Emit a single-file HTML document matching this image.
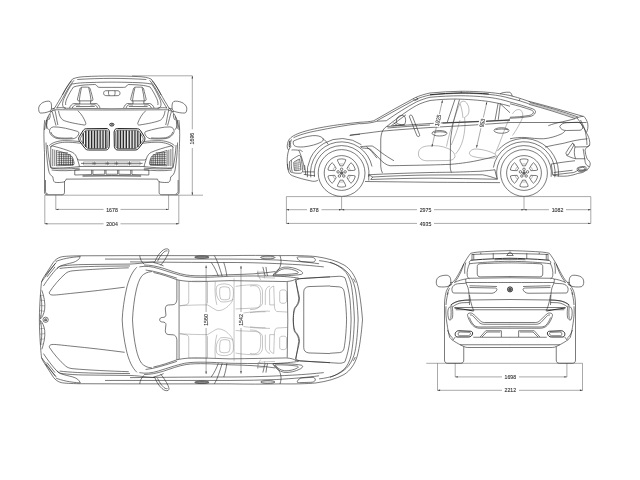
<!DOCTYPE html>
<html><head><meta charset="utf-8"><title>BMW X6 dimensions</title>
<style>
html,body{margin:0;padding:0;background:#fff;}
body{width:640px;height:480px;overflow:hidden;}
svg{display:block;will-change:transform;}
svg *{vector-effect:non-scaling-stroke;}
.l{fill:none;stroke:#222;stroke-width:0.6;stroke-linecap:butt;stroke-linejoin:round;}
.t{fill:none;stroke:#555;stroke-width:0.4;stroke-linecap:butt;stroke-linejoin:round;}
.s{fill:none;stroke:#808080;stroke-width:0.45;}
.w{fill:#fff;stroke:#222;stroke-width:0.6;stroke-linejoin:round;}
.b{fill:none;stroke:#333;stroke-width:1;}
.d{fill:none;stroke:#555;stroke-width:0.5;}
.a{fill:#333;stroke:none;}
text{font-family:"Liberation Sans",sans-serif;font-size:5.8px;fill:#333;stroke:#333;stroke-width:0.12;text-anchor:middle;}
</style></head>
<body>
<svg width="640" height="480" viewBox="0 0 640 480">
<rect width="640" height="480" fill="#fff"/>
<g>
<path class="d" d="M44.8 195.2H203 M44.8 195.2V224 M178.8 195.2V224 M55.8 195.2V209.6 M168.6 195.2V209.6 M55.8 209.4H103.5 M120.5 209.4H168.6 M44.8 223.8H103.5 M120.5 223.8H178.8 M132 75.8H192.3 M192.3 75.8V129.3 M192.3 148V195.2"/>
<path class="a" d="M55.8 209.4l2.6-.7v1.4z M168.6 209.4l-2.6-.7v1.4z M44.8 223.8l2.6-.7v1.4z M178.8 223.8l-2.6-.7v1.4z M192.3 75.8l-.7 2.6h1.4z M192.3 195.2l-.7-2.6h1.4z"/>
<text x="112" y="211.5" textLength="11.6" lengthAdjust="spacingAndGlyphs">1678</text>
<text x="112" y="225.9" textLength="11.6" lengthAdjust="spacingAndGlyphs">2004</text>
<text transform="translate(194.4 138.6) rotate(-90)" textLength="11.6" lengthAdjust="spacingAndGlyphs">1696</text>
<path class="d" d="M286.4 196.6H590.8 M286.4 196.6V223.6 M590.8 196.6V223.6 M341.6 196.6V210 M524 196.6V210 M286.4 209.7H307 M321.5 209.7H417 M434 209.7H549 M566 209.7H590.8 M286.4 223.4H417 M434 223.4H590.8"/>
<path class="a" d="M286.4 209.7l2.6-.7v1.4z M341.6 209.7l-2.6-.7v1.4z M341.6 209.7l2.6-.7v1.4z M524 209.7l-2.6-.7v1.4z M524 209.7l2.6-.7v1.4z M590.8 209.7l-2.6-.7v1.4z M286.4 223.4l2.6-.7v1.4z M590.8 223.4l-2.6-.7v1.4z"/>
<text x="314.2" y="211.8" textLength="8.7" lengthAdjust="spacingAndGlyphs">878</text>
<text x="425.5" y="211.8" textLength="11.6" lengthAdjust="spacingAndGlyphs">2975</text>
<text x="557.5" y="211.8" textLength="11.6" lengthAdjust="spacingAndGlyphs">1082</text>
<text x="425.5" y="225.5" textLength="11.6" lengthAdjust="spacingAndGlyphs">4935</text>
<path class="d" d="M426.3 363.3H582.5 M437.5 363.3V390.5 M582.5 363.3V390.5 M455.2 363.3V377 M566.9 363.3V377 M455.2 376.9H502 M519 376.9H566.9 M437.5 390.3H502 M519 390.3H582.5"/>
<path class="a" d="M455.2 376.9l2.6-.7v1.4z M566.9 376.9l-2.6-.7v1.4z M437.5 390.3l2.6-.7v1.4z M582.5 390.3l-2.6-.7v1.4z"/>
<text x="510.3" y="379.0" textLength="11.6" lengthAdjust="spacingAndGlyphs">1698</text>
<text x="510.3" y="392.4" textLength="11.6" lengthAdjust="spacingAndGlyphs">2212</text>
</g>
<g>
<g>
<g transform="translate(36 70) scale(0.125)">
<path class="l" d="M292 72 C320 60 350 55 390 53 C460 49 540 48 606.6 48"/>
<path class="l" d="M330 76 C420 70 520 67 606.6 67"/>
<path class="l" d="M292 112 C330 104 380 101 440 100 C500 98 560 97 606.6 97"/>
<path class="l" d="M300 136 C330 126 370 120 420 118 L470 116 C480 116 484 122 488 128 C492 136 500 139 512 139 L606.6 139"/>
<path class="l" d="M556 166 C545 168 540 178 541 188 C542 198 548 204 558 205 L606.6 206 M556 166 L606.6 165 M582 166 C578 178 580 195 586 205"/>
<path class="l" d="M292 72 C264 104 240 144 217 188 C192 234 168 272 150 302"/>
<path class="l" d="M304 82 C276 114 252 154 230 196 C208 238 184 276 165 306"/>
<path class="l" d="M285 86 C260 116 234 156 212 200"/>
<path class="l" d="M292 106 C270 135 245 180 225 225 C212 255 208 280 218 295 C224 303 232 306 245 306 L606.6 310"/>
<path class="l" d="M300 136 C282 160 264 192 248 226 C238 248 234 266 238 280"/>
<path class="l" d="M150 318 C200 318 400 320 606.6 320"/>
<path class="l" d="M165 304 C190 300 215 300 240 306"/>
<path class="l" d="M352 150 C355 140 362 137 375 137 L410 137 C423 137 430 140 433 150 C442 180 450 210 455 232 C457 242 452 247 442 247 L345 247 C335 247 330 242 332 232 C337 210 345 180 352 150 Z"/>
<path class="l" d="M364 140 C356 175 350 210 346 246 M421 140 C430 175 437 210 441 246"/>
<path class="l" d="M350 247 L350 272 L437 272 L437 247"/>
<path class="l" d="M268 304 C275 285 288 270 305 268 L350 270 M437 270 L480 268 C495 270 505 285 512 304"/>
<path class="l" d="M290 304 C296 290 305 280 318 278 L350 280 M437 280 L468 278 C480 280 488 290 492 304"/>
<path class="l" d="M320 292 L470 292"/>
<path class="l" d="M180 326 C185 360 195 385 215 400 C240 415 330 432 385 440 C398 442 402 432 396 418 C385 390 365 352 335 326"/>
<path class="l" d="M150 300 C130 325 105 350 90 385 C78 415 72 450 68 480"/>
<path class="l" d="M150 318 C160 350 165 400 175 440"/>
<path class="l" d="M130 335 C140 365 150 410 160 445"/>
<path class="l" d="M100 372 C92 395 85 430 82 470"/>
<path class="l" d="M112 352 C118 372 108 392 100 400"/>
<ellipse class="l" cx="606" cy="437" rx="17" ry="11"/>
<ellipse cx="606" cy="437" rx="9" ry="6" style="fill:#777"/>
</g>
<g transform="translate(36 120) scale(0.125)">
<path class="l" d="M108 92 C106 75 118 58 140 55 C190 52 280 75 335 92 C345 96 345 108 338 120 C330 135 315 148 295 150 C250 153 200 152 170 148 C140 142 112 118 108 92 Z"/>
<path class="l" d="M118 95 C125 120 150 138 178 142 C210 146 260 146 292 143"/>
<path class="l" style="stroke-width:1" d="M343 158 C340 150 341 142 347 132 L376 86 C382 76 390 70 402 70 L560 68 C572 68 580 72 584 82 L588 96 L586 214 L580 228 C576 236 568 240 556 240 L420 240 C408 240 400 236 393 228 L350 172 C346 166 344 162 343 158 Z"/>
<path class="l" d="M356 156 C354 150 355 144 360 136 L386 94 C391 86 398 82 408 82 L556 80 C566 80 572 83 574 90 L576 100 L574 210 L570 220 C567 226 561 228 552 228 L424 228 C414 228 408 225 402 218 L362 168 C358 163 357 160 356 156 Z"/>
<path class="b" style="stroke-width:1.3;stroke:#2a2a2a" d="M398 88V216 M421 83V227 M444 83V227 M467 83V227 M490 82V227 M513 82V227 M536 82V227 M558 82V227 M378 106V190"/>
<path class="t" d="M406 86V222 M429 83V227 M452 83V227 M475 83V227 M498 82V227 M521 82V227 M544 82V227 M566 84V224"/>
<path class="l" d="M105 205 C130 180 180 165 230 165 C270 165 310 168 350 172"/>
<path class="l" d="M112 218 C135 195 180 180 230 178 C270 177 310 180 356 186"/>
<path class="l" d="M118 222 C118 212 124 206 134 208 C190 222 250 240 290 258 C310 268 322 285 330 310 C338 335 345 355 348 372 C300 380 200 385 135 384 C124 384 118 378 118 368 Z"/>
<path class="l" d="M134 232 L134 370 M150 238 L150 368 M164 244 L164 366"/>
<path class="l" d="M164 244 C210 256 255 270 280 285 C295 295 300 320 305 345 C306 355 300 362 290 362 L164 366"/>
<path class="l" d="M170 262H255 M170 278H278 M170 294H288 M170 310H294 M170 326H298 M170 342H302 M170 356H302 M186 256V362 M204 260V362 M222 266V362 M240 272V362 M258 280V362 M276 290V362 M292 310V362"/>
<path class="l" d="M120 385 C180 395 260 392 350 385 M125 400 C200 410 280 405 350 398"/>
<path class="l" d="M345 320 L606.6 320 M348 372 L606.6 372 M330 310 C335 315 340 320 345 320"/>
<path class="t" d="M380 335H455 V360H380Z M475 335H560 V360H475Z M580 335H606.6 M580 360H606.6 M580 335V360"/>
<path class="l" d="M360 347H606.6 M465 330V364 M570 330V364"/>
<path class="l" d="M310 400 L606.6 400 M310 400 L310 440 L445 436 L445 400 M455 400 L455 436 L550 434 L550 400 M560 400V434 L606.6 434"/>
<path class="b" d="M372 448 L606.6 446"/>
<path class="l" d="M240 473 L606.6 471"/>
<path class="l" d="M70 0 C64 40 62 100 64 160 C65 200 66 230 68 260 L68 480"/>
<path class="l" d="M84 0 C80 30 85 60 100 78"/>
<path class="l" d="M80 180 C82 250 88 330 100 400 C106 430 118 445 135 455"/>
<path class="l" d="M92 200 C96 260 104 330 118 385"/>
</g>
<g transform="translate(36 150) scale(0.125)">
<path class="l" d="M68 240 L68 335 C68 350 74 358 90 358 L208 358 C222 358 228 350 228 338 L228 250"/>
<path class="l" d="M135 215 C138 235 138 250 150 258 C170 262 200 260 222 256 C234 252 238 242 240 234"/>
<path class="l" d="M76 240 L76 330 C76 342 82 350 94 351"/>
</g>
</g>
<g><g transform="translate(36 70) scale(0.125)">
<path class="l" d="M22 318 C18 300 28 275 55 260 C75 250 100 246 112 252 C122 258 126 280 124 305 C123 318 118 326 105 332 C85 340 55 346 35 344 C26 342 23 332 22 318 Z"/>
<path class="l" d="M122 312 L150 306 M110 332 C125 332 140 326 150 318"/>
</g></g>
<g transform="translate(223.6 0) scale(-1 1) translate(51.1 0) scale(1.15 1) translate(-51.1 0)"><g transform="translate(36 70) scale(0.125)">
<path class="l" d="M22 318 C18 300 28 275 55 260 C75 250 100 246 112 252 C122 258 126 280 124 305 C123 318 118 326 105 332 C85 340 55 346 35 344 C26 342 23 332 22 318 Z"/>
<path class="l" d="M122 312 L150 306 M110 332 C125 332 140 326 150 318"/>
</g></g>
<g transform="translate(223.6 0) scale(-1 1)">
<g transform="translate(36 70) scale(0.125)">
<path class="l" d="M292 72 C320 60 350 55 390 53 C460 49 540 48 606.6 48"/>
<path class="l" d="M330 76 C420 70 520 67 606.6 67"/>
<path class="l" d="M292 112 C330 104 380 101 440 100 C500 98 560 97 606.6 97"/>
<path class="l" d="M300 136 C330 126 370 120 420 118 L470 116 C480 116 484 122 488 128 C492 136 500 139 512 139 L606.6 139"/>
<path class="l" d="M556 166 C545 168 540 178 541 188 C542 198 548 204 558 205 L606.6 206 M556 166 L606.6 165 M582 166 C578 178 580 195 586 205"/>
<path class="l" d="M292 72 C264 104 240 144 217 188 C192 234 168 272 150 302"/>
<path class="l" d="M304 82 C276 114 252 154 230 196 C208 238 184 276 165 306"/>
<path class="l" d="M285 86 C260 116 234 156 212 200"/>
<path class="l" d="M292 106 C270 135 245 180 225 225 C212 255 208 280 218 295 C224 303 232 306 245 306 L606.6 310"/>
<path class="l" d="M300 136 C282 160 264 192 248 226 C238 248 234 266 238 280"/>
<path class="l" d="M150 318 C200 318 400 320 606.6 320"/>
<path class="l" d="M165 304 C190 300 215 300 240 306"/>
<path class="l" d="M352 150 C355 140 362 137 375 137 L410 137 C423 137 430 140 433 150 C442 180 450 210 455 232 C457 242 452 247 442 247 L345 247 C335 247 330 242 332 232 C337 210 345 180 352 150 Z"/>
<path class="l" d="M364 140 C356 175 350 210 346 246 M421 140 C430 175 437 210 441 246"/>
<path class="l" d="M350 247 L350 272 L437 272 L437 247"/>
<path class="l" d="M268 304 C275 285 288 270 305 268 L350 270 M437 270 L480 268 C495 270 505 285 512 304"/>
<path class="l" d="M290 304 C296 290 305 280 318 278 L350 280 M437 280 L468 278 C480 280 488 290 492 304"/>
<path class="l" d="M320 292 L470 292"/>
<path class="l" d="M180 326 C185 360 195 385 215 400 C240 415 330 432 385 440 C398 442 402 432 396 418 C385 390 365 352 335 326"/>
<path class="l" d="M150 300 C130 325 105 350 90 385 C78 415 72 450 68 480"/>
<path class="l" d="M150 318 C160 350 165 400 175 440"/>
<path class="l" d="M130 335 C140 365 150 410 160 445"/>
<path class="l" d="M100 372 C92 395 85 430 82 470"/>
<path class="l" d="M112 352 C118 372 108 392 100 400"/>
<ellipse class="l" cx="606" cy="437" rx="17" ry="11"/>
<ellipse cx="606" cy="437" rx="9" ry="6" style="fill:#777"/>
</g>
<g transform="translate(36 120) scale(0.125)">
<path class="l" d="M108 92 C106 75 118 58 140 55 C190 52 280 75 335 92 C345 96 345 108 338 120 C330 135 315 148 295 150 C250 153 200 152 170 148 C140 142 112 118 108 92 Z"/>
<path class="l" d="M118 95 C125 120 150 138 178 142 C210 146 260 146 292 143"/>
<path class="l" style="stroke-width:1" d="M343 158 C340 150 341 142 347 132 L376 86 C382 76 390 70 402 70 L560 68 C572 68 580 72 584 82 L588 96 L586 214 L580 228 C576 236 568 240 556 240 L420 240 C408 240 400 236 393 228 L350 172 C346 166 344 162 343 158 Z"/>
<path class="l" d="M356 156 C354 150 355 144 360 136 L386 94 C391 86 398 82 408 82 L556 80 C566 80 572 83 574 90 L576 100 L574 210 L570 220 C567 226 561 228 552 228 L424 228 C414 228 408 225 402 218 L362 168 C358 163 357 160 356 156 Z"/>
<path class="b" style="stroke-width:1.3;stroke:#2a2a2a" d="M398 88V216 M421 83V227 M444 83V227 M467 83V227 M490 82V227 M513 82V227 M536 82V227 M558 82V227 M378 106V190"/>
<path class="t" d="M406 86V222 M429 83V227 M452 83V227 M475 83V227 M498 82V227 M521 82V227 M544 82V227 M566 84V224"/>
<path class="l" d="M105 205 C130 180 180 165 230 165 C270 165 310 168 350 172"/>
<path class="l" d="M112 218 C135 195 180 180 230 178 C270 177 310 180 356 186"/>
<path class="l" d="M118 222 C118 212 124 206 134 208 C190 222 250 240 290 258 C310 268 322 285 330 310 C338 335 345 355 348 372 C300 380 200 385 135 384 C124 384 118 378 118 368 Z"/>
<path class="l" d="M134 232 L134 370 M150 238 L150 368 M164 244 L164 366"/>
<path class="l" d="M164 244 C210 256 255 270 280 285 C295 295 300 320 305 345 C306 355 300 362 290 362 L164 366"/>
<path class="l" d="M170 262H255 M170 278H278 M170 294H288 M170 310H294 M170 326H298 M170 342H302 M170 356H302 M186 256V362 M204 260V362 M222 266V362 M240 272V362 M258 280V362 M276 290V362 M292 310V362"/>
<path class="l" d="M120 385 C180 395 260 392 350 385 M125 400 C200 410 280 405 350 398"/>
<path class="l" d="M345 320 L606.6 320 M348 372 L606.6 372 M330 310 C335 315 340 320 345 320"/>
<path class="t" d="M380 335H455 V360H380Z M475 335H560 V360H475Z M580 335H606.6 M580 360H606.6 M580 335V360"/>
<path class="l" d="M360 347H606.6 M465 330V364 M570 330V364"/>
<path class="l" d="M310 400 L606.6 400 M310 400 L310 440 L445 436 L445 400 M455 400 L455 436 L550 434 L550 400 M560 400V434 L606.6 434"/>
<path class="b" d="M372 448 L606.6 446"/>
<path class="l" d="M240 473 L606.6 471"/>
<path class="l" d="M70 0 C64 40 62 100 64 160 C65 200 66 230 68 260 L68 480"/>
<path class="l" d="M84 0 C80 30 85 60 100 78"/>
<path class="l" d="M80 180 C82 250 88 330 100 400 C106 430 118 445 135 455"/>
<path class="l" d="M92 200 C96 260 104 330 118 385"/>
</g>
<g transform="translate(36 150) scale(0.125)">
<path class="l" d="M68 240 L68 335 C68 350 74 358 90 358 L208 358 C222 358 228 350 228 338 L228 250"/>
<path class="l" d="M135 215 C138 235 138 250 150 258 C170 262 200 260 222 256 C234 252 238 242 240 234"/>
<path class="l" d="M76 240 L76 330 C76 342 82 350 94 351"/>
</g>
</g>
</g>
<g>
<g transform="translate(280 110) scale(0.125)">
<path class="l" d="M76 232 C100 205 140 188 200 170 C290 145 420 120 640 98"/>
<path class="l" d="M108 222 C150 200 220 180 300 165 C400 145 520 122 640 108"/>
<path class="l" d="M76 232 C66 245 60 262 58 285 C57 300 60 312 70 320"/>
<path class="l" d="M92 235 C85 250 82 270 86 295 C80 300 74 310 70 320"/>
<path class="b" d="M80 245 C74 262 72 280 76 298"/>
<path class="l" d="M108 248 C150 228 210 210 262 205 C300 203 328 210 342 226 C350 236 346 246 334 254 C300 274 240 290 190 295 C150 298 122 294 112 282 C104 270 104 258 108 248 Z"/>
<path class="l" d="M342 228 C360 240 375 258 386 276"/>
<path class="l" d="M70 320 C60 350 55 390 58 430 C59 450 62 465 66 480"/>
<path class="l" d="M92 320 C110 318 135 320 150 322 C165 350 180 400 190 440 L196 480"/>
<path class="l" d="M150 322 C160 318 172 322 180 335"/>
<path class="l" d="M556 205 C585 200 612 196 640 194"/>
</g>
<g transform="translate(280 145) scale(0.125)">
<path class="l" d="M66 200 C68 222 80 238 100 246 C140 262 200 278 260 290 C280 292 296 288 306 280"/>
<path class="l" d="M66 200 C62 180 60 165 60 150"/>
<path class="l" d="M76 132 C100 112 128 94 150 84 C160 82 166 90 168 104 C174 140 180 175 182 200 C182 215 176 224 164 226 C135 228 105 224 84 216 C76 190 74 160 76 132 Z"/>
<path class="l" d="M110 138 C128 126 144 116 156 112 C162 140 166 170 168 198 C150 204 130 206 116 204 C112 180 110 160 110 138 Z"/>
<path class="t" d="M122 132V204 M134 125V205 M146 118V203 M112 150L162 140 M113 165L164 156 M114 180L166 172 M115 193L167 186"/>
<path class="l" d="M92 122 C88 150 90 185 98 214"/>
<path class="l" d="M182 215 L276 215 M190 235 C220 240 250 244 280 246"/>
<path class="l" d="M196 160 C200 185 204 210 206 240"/>
</g>
<g transform="translate(350 80) scale(0.125)">
<path class="l" d="M80 338 C120 336 160 334 190 326 C300 262 410 200 520 142 C560 124 600 112 640 104"/>
<path class="l" d="M80 350 C130 348 180 342 215 330 L290 326"/>
<path class="l" d="M215 326 C320 268 420 212 520 158 C560 140 600 128 640 120"/>
<path class="l" d="M290 326 C370 270 450 218 530 176 C570 158 605 146 640 138"/>
<path class="l" d="M296 370 C340 335 390 298 440 262 C480 234 520 208 560 190 C590 178 615 170 640 164"/>
<path class="l" d="M330 366 C370 336 410 306 448 278"/>
<path class="l" d="M505 150 L520 164 L545 152 L530 140"/>
<path class="l" d="M372 318 C376 300 390 286 410 284 C428 283 438 288 442 302 C446 318 446 335 440 348 C436 356 426 358 412 357 C396 356 382 352 374 346 C370 338 370 328 372 318 Z"/>
<path class="l" d="M350 340 C356 350 364 356 374 358 M340 366 L440 358"/>
<path class="l" d="M478 284 C484 278 494 280 498 288 L556 436 C560 446 554 454 546 452 C540 452 536 448 534 442 L476 296 C474 290 475 287 478 284 Z"/>
<path class="l" d="M296 370 C270 385 255 410 250 440 C247 455 246 470 246 480"/>
<path class="l" d="M296 372 C400 364 520 356 640 348"/>
<path class="l" d="M300 384 C400 376 520 366 640 360"/>
<path class="l" d="M0 440 C80 432 170 420 246 410 C380 398 520 388 640 380"/>
</g>
<g transform="translate(350 135) scale(0.125)">
<path class="l" d="M246 40 L246 250 C247 270 252 290 260 305"/>
<path class="l" d="M84 94 C120 90 150 88 178 88 C200 100 225 120 250 140 C285 165 320 188 352 206"/>
<path class="l" d="M100 104 C125 106 145 108 162 112 C185 135 212 165 238 192 C262 220 290 240 320 246 C420 244 540 242 640 240"/>
<path class="l" d="M84 94 L100 104 M130 92 C160 115 190 150 215 185"/>
<path class="l" d="M150 318 C300 310 480 304 640 300"/>
<path class="l" d="M182 336 C320 328 480 322 640 320"/>
<path class="l" d="M150 318 L182 336 L166 356 C320 350 480 346 640 345"/>
<path class="l" d="M150 318 L150 365 M120 372 C300 374 480 376 640 378"/>
</g>
<g transform="translate(430 80) scale(0.125)">
<path class="l" d="M0 104 C80 96 170 91 250 90 C340 90 420 95 480 100 C540 106 590 114 640 124"/>
<path class="b" d="M0 118 C80 110 170 104 250 103 C330 103 410 107 470 112"/>
<path class="l" d="M0 120 C80 112 170 107 250 106 C340 106 420 111 480 116 C540 122 590 132 640 146"/>
<path class="l" d="M0 138 C80 131 170 126 250 126 C340 127 420 133 480 140 C540 148 590 160 640 176"/>
<path class="l" d="M250 90 L250 106"/>
<path class="l" d="M560 112 C575 100 600 96 640 98"/>
<path class="l" d="M0 164 C70 156 140 152 200 152 C300 154 400 162 470 172 C540 184 600 198 640 210"/>
<path class="l" d="M200 154 L138 338 M236 156 L186 340"/>
<path class="l" d="M186 340 C178 380 170 430 164 480"/>
<path class="l" d="M545 186 L520 322 M562 190 L546 318"/>
<path class="l" d="M562 190 C590 215 615 240 640 262"/>
<path class="l" d="M0 348 C100 342 200 338 300 334 C420 330 540 324 640 318"/>
<path class="l" style="stroke-width:0.8" d="M100 345 C200 341 300 337 400 333 C490 329 570 325 640 321"/>
<path class="l" d="M0 380 C100 374 220 368 320 362 C440 354 560 346 640 340"/>
<ellipse class="l" cx="76" cy="426" rx="60" ry="22"/>
<path class="l" d="M30 420 C60 412 100 412 128 420"/>
<ellipse class="l" cx="572" cy="404" rx="60" ry="22"/>
<path class="l" d="M524 398 C555 390 595 390 624 398"/>
</g>
<g transform="translate(430 135) scale(0.125)">
<path class="l" d="M164 40 L162 250 C162 270 166 288 172 300"/>
<path class="l" d="M0 240 C60 238 110 237 160 235 C250 228 340 214 400 200 C450 190 490 180 525 168"/>
<path class="l" d="M0 300 C60 299 120 298 170 298 C260 296 340 292 400 290 C450 286 490 282 520 278"/>
<path class="l" d="M0 320 C140 320 280 319 420 318 C460 325 500 338 540 352"/>
<path class="l" d="M0 345 C180 347 360 350 540 354"/>
<path class="l" d="M0 378 C190 379 380 380 560 381"/>
<path class="l" d="M520 278 C522 300 530 328 540 352"/>
</g>
<g transform="translate(510 80) scale(0.125)">
<path class="l" d="M0 124 C40 134 80 146 120 160 C135 165 150 170 160 176"/>
<path class="l" d="M0 98 C8 104 14 114 18 130"/>
<path class="l" d="M0 146 C50 158 100 172 150 190"/>
<path class="l" d="M80 150 L72 168"/>
<path class="l" d="M150 170 C290 206 430 246 582 290"/>
<path class="l" d="M160 180 C290 214 420 252 545 296"/>
<path class="t" d="M152 187 C280 221 410 259 535 302"/>
<path class="l" d="M150 194 C275 228 400 266 520 308"/>
<path class="l" d="M520 308 C545 298 565 292 590 290 C605 305 616 325 622 350 C626 375 622 400 612 420"/>
<path class="l" d="M535 302 C550 320 565 340 575 360 C590 380 600 400 604 420"/>
<path class="l" d="M0 176 C60 192 130 212 180 230 C200 238 208 248 202 262 C196 278 180 288 160 292 C110 300 55 304 0 306"/>
<path class="l" d="M0 190 C55 204 120 222 170 240 C186 247 190 254 186 264 C180 275 166 282 150 284 C105 292 50 296 0 298"/>
<path class="l" d="M0 340 L612 340"/>
<path class="l" d="M306 366 C340 352 380 342 420 334 C455 326 490 318 520 310"/>
<path class="l" d="M398 372 C405 355 425 344 450 342 L540 338 C560 338 574 350 580 370 C584 388 576 400 560 402 L450 404 C425 404 405 395 398 372 Z"/>
<path class="l" d="M0 470 C40 462 80 458 120 460 C170 464 220 472 270 470 C320 466 370 450 410 432 C425 424 435 415 442 406"/>
</g>
<g transform="translate(520 120) scale(0.125)">
<path class="l" d="M484 0 C500 30 515 65 530 100 C545 125 556 150 558 180 C560 200 555 212 540 214 L440 216"/>
<path class="l" d="M524 100 C530 130 534 160 536 200"/>
<path class="l" d="M558 200 C540 212 525 225 520 240 C522 265 528 290 536 310 C550 322 560 335 562 350 C562 370 550 390 530 402 C520 410 510 416 500 420"/>
<path class="l" d="M505 230 C510 260 516 300 522 340 C528 360 540 370 552 372"/>
<path class="l" d="M420 186 C400 210 382 236 368 262 C366 272 372 280 384 280 C400 255 418 225 432 200 C430 192 426 188 420 186 Z"/>
<path class="l" d="M440 216 C436 200 430 190 420 186"/>
<path class="l" d="M200 216 C250 205 300 195 350 186 C380 178 410 170 440 164 C475 158 510 152 540 150"/>
<path class="l" d="M370 282 C395 295 420 305 445 310 L522 310"/>
<path class="l" d="M440 216 C432 245 432 280 445 310"/>
<path class="l" d="M252 352 C310 342 380 332 440 326"/>
<path class="l" d="M262 440 C320 432 380 426 430 420 C445 414 458 406 468 400 L540 400"/>
<path class="l" d="M250 350 L262 440 M262 440 C300 450 340 452 380 448 C410 444 440 436 460 428 L500 420"/>
<path class="l" d="M270 420 C320 414 370 408 420 402"/>
<path class="l" d="M458 384 C475 374 500 370 520 372 C530 376 532 386 526 396 C515 408 495 416 475 414 C462 412 454 400 458 384 Z"/>
<path class="l" d="M468 388 C480 380 498 378 514 380 C520 384 520 390 516 396 C506 404 492 408 478 406 C470 404 466 396 468 388 Z"/>
</g>
<g transform="translate(350 70) scale(0.25)">
<path class="t" d="M275 326 C278 314 290 306 310 304 C340 300 370 304 392 314 C410 322 420 334 420 346 C418 356 408 362 392 362 L305 363 C288 362 276 352 274 340 C273 334 274 330 275 326 Z"/>
<path class="t" d="M386 306 C392 275 402 240 414 205 C424 175 432 150 440 134 C444 126 452 123 460 126 C470 132 476 146 476 162 C476 174 470 184 458 190 C462 215 460 245 452 278 C446 300 436 322 422 336"/>
<path class="t" d="M440 134 C446 150 450 170 452 192 M405 300 C418 270 430 240 440 200"/>
<path class="t" d="M478 330 C482 320 492 315 508 316 C535 318 562 326 580 336 C588 342 588 350 578 352 C550 356 515 352 492 346 C480 342 476 336 478 330 Z"/>
<path class="t" d="M580 336 C592 310 605 275 618 240 C626 218 634 200 640 190"/>
</g>
<g transform="translate(430 70) scale(0.25)">
<path class="t" d="M330 175 C340 160 352 155 362 160 C372 168 374 182 368 196 C360 215 345 240 330 262"/>
</g>
<path class="l" d="M314.47 176.81 A27.4 27.4 0 1 1 368.73 176.81"/>
<path class="l" d="M310.80 177.33 A31.1 31.1 0 0 1 372.02 166.53"/>
<path class="l" d="M307.36 177.20 A34.5 34.5 0 0 1 361.39 144.74"/>
<path class="l" d="M497.02 177.76 A27.4 27.4 0 1 1 551.13 176.81"/>
<path class="l" d="M493.37 167.60 A31.1 31.1 0 0 1 554.80 177.33"/>
<path class="l" d="M497.57 150.82 A34.5 34.5 0 0 1 558.31 176.61"/>
<circle class="w" cx="341.6" cy="173.0" r="23.4"/>
<circle class="l" cx="341.6" cy="173.0" r="17.4"/>
<path class="l" d="M345.40 161.30 Q346.63 159.19 344.29 159.16 A14.100000000000001 14.100000000000001 0 0 0 338.91 159.16 Q336.57 159.19 337.80 161.30 L340.23 165.93 A7.2 7.2 0 0 1 342.97 165.93 Z"/>
<path class="t" d="M343.49 164.10 A9.1 9.1 0 0 0 339.71 164.10"/>
<path class="l" d="M333.37 163.86 Q332.15 161.74 330.96 163.75 A14.100000000000001 14.100000000000001 0 0 0 328.27 168.41 Q327.12 170.45 329.57 170.44 L334.79 170.66 A7.2 7.2 0 0 1 336.17 168.28 Z"/>
<path class="t" d="M334.84 166.91 A9.1 9.1 0 0 0 332.95 170.19"/>
<path class="l" d="M329.57 175.56 Q327.12 175.55 328.27 177.59 A14.100000000000001 14.100000000000001 0 0 0 330.96 182.25 Q332.15 184.26 333.37 182.14 L336.17 177.72 A7.2 7.2 0 0 1 334.79 175.34 Z"/>
<path class="t" d="M332.95 175.81 A9.1 9.1 0 0 0 334.84 179.09"/>
<path class="l" d="M337.80 184.70 Q336.57 186.81 338.91 186.84 A14.100000000000001 14.100000000000001 0 0 0 344.29 186.84 Q346.63 186.81 345.40 184.70 L342.97 180.07 A7.2 7.2 0 0 1 340.23 180.07 Z"/>
<path class="t" d="M339.71 181.90 A9.1 9.1 0 0 0 343.49 181.90"/>
<path class="l" d="M349.83 182.14 Q351.05 184.26 352.24 182.25 A14.100000000000001 14.100000000000001 0 0 0 354.93 177.59 Q356.08 175.55 353.63 175.56 L348.41 175.34 A7.2 7.2 0 0 1 347.03 177.72 Z"/>
<path class="t" d="M348.36 179.09 A9.1 9.1 0 0 0 350.25 175.81"/>
<path class="l" d="M353.63 170.44 Q356.08 170.45 354.93 168.41 A14.100000000000001 14.100000000000001 0 0 0 352.24 163.75 Q351.05 161.74 349.83 163.86 L347.03 168.28 A7.2 7.2 0 0 1 348.41 170.66 Z"/>
<path class="t" d="M350.25 170.19 A9.1 9.1 0 0 0 348.36 166.91"/>
<circle class="l" cx="341.60" cy="169.30" r="1.25"/>
<circle class="l" cx="338.08" cy="171.86" r="1.25"/>
<circle class="l" cx="339.43" cy="175.99" r="1.25"/>
<circle class="l" cx="343.77" cy="175.99" r="1.25"/>
<circle class="l" cx="345.12" cy="171.86" r="1.25"/>
<circle cx="341.6" cy="173.0" r="1.5" style="fill:#666;stroke:#333;stroke-width:0.4"/>
<circle class="w" cx="524" cy="173.0" r="23.4"/>
<circle class="l" cx="524" cy="173.0" r="17.4"/>
<path class="l" d="M527.80 161.30 Q529.03 159.19 526.69 159.16 A14.100000000000001 14.100000000000001 0 0 0 521.31 159.16 Q518.97 159.19 520.20 161.30 L522.63 165.93 A7.2 7.2 0 0 1 525.37 165.93 Z"/>
<path class="t" d="M525.89 164.10 A9.1 9.1 0 0 0 522.11 164.10"/>
<path class="l" d="M515.77 163.86 Q514.55 161.74 513.36 163.75 A14.100000000000001 14.100000000000001 0 0 0 510.67 168.41 Q509.52 170.45 511.97 170.44 L517.19 170.66 A7.2 7.2 0 0 1 518.57 168.28 Z"/>
<path class="t" d="M517.24 166.91 A9.1 9.1 0 0 0 515.35 170.19"/>
<path class="l" d="M511.97 175.56 Q509.52 175.55 510.67 177.59 A14.100000000000001 14.100000000000001 0 0 0 513.36 182.25 Q514.55 184.26 515.77 182.14 L518.57 177.72 A7.2 7.2 0 0 1 517.19 175.34 Z"/>
<path class="t" d="M515.35 175.81 A9.1 9.1 0 0 0 517.24 179.09"/>
<path class="l" d="M520.20 184.70 Q518.97 186.81 521.31 186.84 A14.100000000000001 14.100000000000001 0 0 0 526.69 186.84 Q529.03 186.81 527.80 184.70 L525.37 180.07 A7.2 7.2 0 0 1 522.63 180.07 Z"/>
<path class="t" d="M522.11 181.90 A9.1 9.1 0 0 0 525.89 181.90"/>
<path class="l" d="M532.23 182.14 Q533.45 184.26 534.64 182.25 A14.100000000000001 14.100000000000001 0 0 0 537.33 177.59 Q538.48 175.55 536.03 175.56 L530.81 175.34 A7.2 7.2 0 0 1 529.43 177.72 Z"/>
<path class="t" d="M530.76 179.09 A9.1 9.1 0 0 0 532.65 175.81"/>
<path class="l" d="M536.03 170.44 Q538.48 170.45 537.33 168.41 A14.100000000000001 14.100000000000001 0 0 0 534.64 163.75 Q533.45 161.74 532.23 163.86 L529.43 168.28 A7.2 7.2 0 0 1 530.81 170.66 Z"/>
<path class="t" d="M532.65 170.19 A9.1 9.1 0 0 0 530.76 166.91"/>
<circle class="l" cx="524.00" cy="169.30" r="1.25"/>
<circle class="l" cx="520.48" cy="171.86" r="1.25"/>
<circle class="l" cx="521.83" cy="175.99" r="1.25"/>
<circle class="l" cx="526.17" cy="175.99" r="1.25"/>
<circle class="l" cx="527.52" cy="171.86" r="1.25"/>
<circle cx="524" cy="173.0" r="1.5" style="fill:#666;stroke:#333;stroke-width:0.4"/>
<path class="d" d="M442.50 100.20L439.32 114.20 M436.51 126.60L431.90 146.90"/><path class="a" d="M442.50 100.20L441.24 102.58L442.61 102.89Z M431.90 146.90L431.79 144.21L433.16 144.52Z"/><g transform="translate(437.91 120.40) rotate(-77.2)"><rect x="-6.4" y="-3.4" width="12.8" height="6.8" fill="#fff"/><text y="2.1" textLength="11.6" lengthAdjust="spacingAndGlyphs">1025</text></g>
<path class="d" d="M486.90 101.90L483.36 117.50 M480.93 128.20L476.50 147.75"/><path class="a" d="M486.90 101.90L485.64 104.28L487.01 104.59Z M476.50 147.75L476.39 145.06L477.76 145.37Z"/><g transform="translate(482.15 122.85) rotate(-77.2)"><rect x="-4.8" y="-3.4" width="9.6" height="6.8" fill="#fff"/><text y="2.1" textLength="8.7" lengthAdjust="spacingAndGlyphs">953</text></g>
</g>
<g>
<g>
<g transform="translate(30 245) scale(0.15625)">
<path class="l" d="M60 478.6 C60 420 64 350 68 300 C70 270 72 250 74 236 C78 222 84 212 92 200 L150 110 C162 94 178 82 200 76 C220 72 260 70 320 69 L640 68"/>
<path class="l" d="M74 236 C100 200 130 160 162 118 M86 262 C110 225 140 185 172 150 C182 140 192 136 205 134 C250 128 300 126 340 125 L640 122"/>
<path class="l" d="M98 195 C120 168 145 138 168 112 M108 205 L160 140"/>
<path class="l" d="M165 106 C200 90 260 78 322 74 C316 92 300 104 275 112 C245 120 215 126 195 134 C185 140 178 146 172 152"/>
<path class="l" d="M190 150 C250 142 350 138 450 136 L640 134"/>
<path class="l" d="M480 90 L640 90"/>
<path class="l" d="M124 302 C150 262 190 215 228 182 C240 172 255 167 275 165 C380 156 510 150 632 146"/>
<path class="l" d="M124 302 C122 312 128 318 140 320 C160 322 200 316 260 310 C380 298 500 284 606 270"/>
<path class="l" d="M76 290 C90 330 98 370 94 410 C90 440 78 465 64 476 M68 320 C76 360 80 410 66 472"/>
<path class="t" d="M66 320L86 324 M64 352L93 356 M63 386L96 390 M62 420L92 424 M61 452L78 455"/>
<path class="l" d="M83 478.6 A17 17 0 0 1 117 478.6"/>
<path d="M90 478.6 A10 10 0 0 1 110 478.6Z" style="fill:#666"/>
</g>
<g transform="translate(130 245) scale(0.15625)">
<path class="l" d="M0 68 L640 68 M0 90 L640 90"/>
<path class="l" d="M0 122 C40 120 80 116 110 112 L160 108"/>
<path class="l" d="M44 142 C30 156 18 172 6 196 C-8 226 -18 258 -24 288 C-36 340 -48 420 -50 478.6"/>
<path class="l" d="M140 170 C112 172 90 182 74 200 C58 222 48 254 40 288 C28 340 18 420 16 478.6"/>
<path class="l" d="M62 68 C66 90 72 108 90 122"/>
<path class="l" d="M160 106 C170 80 185 56 205 38 C218 26 232 22 244 26 C252 30 250 42 244 56 C232 82 215 108 196 130"/>
<path class="l" d="M150 112 C170 116 195 124 215 134"/>
<path class="l" d="M176 104 C186 82 200 60 218 44 C226 38 234 36 240 38"/>
<path class="l" d="M60 140 C100 132 140 138 180 150 C240 168 300 190 350 200 C420 212 520 206 640 200"/>
<path class="l" d="M90 128 C130 128 170 136 210 148 C260 164 310 184 360 192 C430 202 530 196 640 190"/>
<path class="l" d="M150 176 C200 186 250 204 300 222 C340 232 400 236 460 234 L640 228"/>
<path class="l" d="M100 160 C160 166 230 190 300 212"/>
<path class="l" d="M0 108 C200 110 420 112 640 112"/>
<ellipse class="l" cx="460" cy="78" rx="46" ry="8" style="fill:#888"/>
<path class="l" d="M540 68 C560 100 575 150 590 200 M520 112 C540 140 555 170 565 200 M600 112 C610 140 616 170 620 200"/>
<path class="l" d="M300 222 L300 350 C298 370 290 380 276 382 L244 384 C232 386 226 394 226 410 L230 448 C230 458 222 464 206 464 C196 464 190 470 190 478.6"/>
<path class="l" d="M314 226 L314 478.6"/>
</g>
<g transform="translate(230 245) scale(0.15625)">
<path class="l" d="M0 68 C110 66 220 66 320 68"/>
<path class="l" d="M0 90 C100 90 200 92 300 96 C400 102 500 110 570 120"/>
<path class="l" d="M0 112 C120 112 260 116 400 124 C480 128 540 134 600 140"/>
<ellipse class="l" cx="242" cy="80" rx="46" ry="9" style="fill:#ddd"/>
<path class="l" d="M430 82 C436 96 444 104 460 106 L525 110 C540 110 548 102 546 92 C542 82 530 78 515 78 L445 76 C434 76 428 78 430 82 Z"/>
<path class="l" d="M0 200 C100 198 200 198 280 198 C340 200 400 206 440 212"/>
<path class="l" d="M0 190 C100 188 200 184 290 170"/>
<path class="l" d="M0 228 C120 230 250 232 360 234 C390 232 410 226 420 218"/>
<path class="l" d="M276 192 C290 170 315 148 345 142 C380 138 420 148 450 164 C468 174 470 184 455 188 C410 196 340 198 276 198 Z"/>
<path class="l" d="M290 186 C302 170 322 156 348 152 C380 150 410 158 432 170 C440 176 438 180 428 182 C390 188 340 190 290 190 Z"/>
<path class="l" d="M320 68 C328 90 330 115 320 140 C310 160 296 176 280 192"/>
<path class="l" d="M210 140 C215 160 220 180 225 198 M230 140 C232 160 236 180 240 198"/>
<path class="l" d="M366 236 L370 478.6"/>
<path class="l" d="M420 218 C425 260 436 300 440 340 C440 365 430 385 415 400 C408 410 405 440 405 478.6"/>
<path class="l" d="M420 218 C480 212 560 208 640 204"/>
<path class="l" d="M472 478.6 L472 300 C472 280 484 268 505 266 L640 262"/>
</g>
<g transform="translate(280 245) scale(0.15625)">
<path class="l" d="M0 68 C90 67 170 68 230 74 C300 84 360 100 410 128 C450 152 478.6 195 494 245 C510 300 522 400 528 478.6"/>
<path class="l" d="M250 100 C290 104 325 112 355 124 C390 138 420 160 440 185 C460 212 472 240 480 275 C490 320 497 400 500 478.6"/>
<path class="l" d="M320 110 C355 122 385 140 408 160 C430 180 445 210 455 250 C465 300 474 400 476 478.6"/>
<path class="l" d="M416 210 C430 250 442 300 448 350 C452 400 454 440 455 478.6"/>
<path class="l" d="M100 230 C108 222 118 216 132 215 L380 200 C395 200 408 204 416 210"/>
<path class="l" d="M100 230 C108 270 118 300 125 340 C125 365 115 385 100 400 C92 410 86 440 85 478.6"/>
<path class="l" d="M380 268 C398 270 406 280 410 296 C418 340 424 400 426 478.6"/>
<path class="l" d="M320 264 L380 268"/>
<path class="l" d="M468 215 C474 222 478.6 230 482 240"/>
</g>
<g transform="translate(170 258) scale(0.15625)">
<path class="s" d="M120 150 L120 280 C120 292 112 298 98 300 L62 306 M120 150 C160 146 200 146 240 150 L240 290 M62 306 C110 302 180 300 240 300 C262 312 282 328 302 336 C330 340 360 322 380 300 C392 288 400 276 402 262"/>
<path class="s" d="M300 180 C310 170 330 164 355 166 C380 168 398 178 404 196 C408 220 406 250 400 268 C380 280 350 284 325 280 C308 268 298 245 296 220 C295 204 296 190 300 180 Z"/>
<path class="s" d="M320 190 C335 182 360 182 378 190 C386 210 386 240 380 262 C362 270 340 270 324 262 C316 240 316 210 320 190 Z"/>
<path class="s" d="M410 130 L410 395 M290 150 C286 200 288 260 300 300"/>
<path class="s" d="M420 182 C460 174 520 170 560 172 C580 178 590 192 592 212 L592 290 C588 308 570 318 545 320 L420 326"/>
<path class="s" d="M470 352 C520 344 580 340 640 340 M640 180 C620 184 610 200 610 230 L610 300 M560 90 C566 110 572 128 580 140 M556 92 L600 88 L606 130"/>
</g>
<g transform="translate(250 258) scale(0.15625)">
<path class="s" d="M0 180 C20 174 40 176 52 186 C62 198 68 215 68 240 L68 290 C66 310 52 324 30 328 L0 330"/>
<path class="s" d="M125 204 C130 190 140 182 152 180 L156 300 L126 300 Z M156 300 C156 320 160 335 170 342 L240 346"/>
<path class="s" d="M190 218 C190 208 198 204 212 204 C226 204 234 210 234 220 L234 276 C234 286 226 290 212 290 C198 290 190 286 190 276 Z"/>
<path class="s" d="M50 80 L50 120 C80 126 120 128 160 128 M0 350 C30 346 60 344 100 344"/>
</g>
</g>
<g transform="translate(0 639.5) scale(1 -1)">
<g transform="translate(30 245) scale(0.15625)">
<path class="l" d="M60 478.6 C60 420 64 350 68 300 C70 270 72 250 74 236 C78 222 84 212 92 200 L150 110 C162 94 178 82 200 76 C220 72 260 70 320 69 L640 68"/>
<path class="l" d="M74 236 C100 200 130 160 162 118 M86 262 C110 225 140 185 172 150 C182 140 192 136 205 134 C250 128 300 126 340 125 L640 122"/>
<path class="l" d="M98 195 C120 168 145 138 168 112 M108 205 L160 140"/>
<path class="l" d="M165 106 C200 90 260 78 322 74 C316 92 300 104 275 112 C245 120 215 126 195 134 C185 140 178 146 172 152"/>
<path class="l" d="M190 150 C250 142 350 138 450 136 L640 134"/>
<path class="l" d="M480 90 L640 90"/>
<path class="l" d="M124 302 C150 262 190 215 228 182 C240 172 255 167 275 165 C380 156 510 150 632 146"/>
<path class="l" d="M124 302 C122 312 128 318 140 320 C160 322 200 316 260 310 C380 298 500 284 606 270"/>
<path class="l" d="M76 290 C90 330 98 370 94 410 C90 440 78 465 64 476 M68 320 C76 360 80 410 66 472"/>
<path class="t" d="M66 320L86 324 M64 352L93 356 M63 386L96 390 M62 420L92 424 M61 452L78 455"/>
<path class="l" d="M83 478.6 A17 17 0 0 1 117 478.6"/>
<path d="M90 478.6 A10 10 0 0 1 110 478.6Z" style="fill:#666"/>
</g>
<g transform="translate(130 245) scale(0.15625)">
<path class="l" d="M0 68 L640 68 M0 90 L640 90"/>
<path class="l" d="M0 122 C40 120 80 116 110 112 L160 108"/>
<path class="l" d="M44 142 C30 156 18 172 6 196 C-8 226 -18 258 -24 288 C-36 340 -48 420 -50 478.6"/>
<path class="l" d="M140 170 C112 172 90 182 74 200 C58 222 48 254 40 288 C28 340 18 420 16 478.6"/>
<path class="l" d="M62 68 C66 90 72 108 90 122"/>
<path class="l" d="M160 106 C170 80 185 56 205 38 C218 26 232 22 244 26 C252 30 250 42 244 56 C232 82 215 108 196 130"/>
<path class="l" d="M150 112 C170 116 195 124 215 134"/>
<path class="l" d="M176 104 C186 82 200 60 218 44 C226 38 234 36 240 38"/>
<path class="l" d="M60 140 C100 132 140 138 180 150 C240 168 300 190 350 200 C420 212 520 206 640 200"/>
<path class="l" d="M90 128 C130 128 170 136 210 148 C260 164 310 184 360 192 C430 202 530 196 640 190"/>
<path class="l" d="M150 176 C200 186 250 204 300 222 C340 232 400 236 460 234 L640 228"/>
<path class="l" d="M100 160 C160 166 230 190 300 212"/>
<path class="l" d="M0 108 C200 110 420 112 640 112"/>
<ellipse class="l" cx="460" cy="78" rx="46" ry="8" style="fill:#888"/>
<path class="l" d="M540 68 C560 100 575 150 590 200 M520 112 C540 140 555 170 565 200 M600 112 C610 140 616 170 620 200"/>
<path class="l" d="M300 222 L300 350 C298 370 290 380 276 382 L244 384 C232 386 226 394 226 410 L230 448 C230 458 222 464 206 464 C196 464 190 470 190 478.6"/>
<path class="l" d="M314 226 L314 478.6"/>
</g>
<g transform="translate(230 245) scale(0.15625)">
<path class="l" d="M0 68 C110 66 220 66 320 68"/>
<path class="l" d="M0 90 C100 90 200 92 300 96 C400 102 500 110 570 120"/>
<path class="l" d="M0 112 C120 112 260 116 400 124 C480 128 540 134 600 140"/>
<ellipse class="l" cx="242" cy="80" rx="46" ry="9" style="fill:#ddd"/>
<path class="l" d="M430 82 C436 96 444 104 460 106 L525 110 C540 110 548 102 546 92 C542 82 530 78 515 78 L445 76 C434 76 428 78 430 82 Z"/>
<path class="l" d="M0 200 C100 198 200 198 280 198 C340 200 400 206 440 212"/>
<path class="l" d="M0 190 C100 188 200 184 290 170"/>
<path class="l" d="M0 228 C120 230 250 232 360 234 C390 232 410 226 420 218"/>
<path class="l" d="M276 192 C290 170 315 148 345 142 C380 138 420 148 450 164 C468 174 470 184 455 188 C410 196 340 198 276 198 Z"/>
<path class="l" d="M290 186 C302 170 322 156 348 152 C380 150 410 158 432 170 C440 176 438 180 428 182 C390 188 340 190 290 190 Z"/>
<path class="l" d="M320 68 C328 90 330 115 320 140 C310 160 296 176 280 192"/>
<path class="l" d="M210 140 C215 160 220 180 225 198 M230 140 C232 160 236 180 240 198"/>
<path class="l" d="M366 236 L370 478.6"/>
<path class="l" d="M420 218 C425 260 436 300 440 340 C440 365 430 385 415 400 C408 410 405 440 405 478.6"/>
<path class="l" d="M420 218 C480 212 560 208 640 204"/>
<path class="l" d="M472 478.6 L472 300 C472 280 484 268 505 266 L640 262"/>
</g>
<g transform="translate(280 245) scale(0.15625)">
<path class="l" d="M0 68 C90 67 170 68 230 74 C300 84 360 100 410 128 C450 152 478.6 195 494 245 C510 300 522 400 528 478.6"/>
<path class="l" d="M250 100 C290 104 325 112 355 124 C390 138 420 160 440 185 C460 212 472 240 480 275 C490 320 497 400 500 478.6"/>
<path class="l" d="M320 110 C355 122 385 140 408 160 C430 180 445 210 455 250 C465 300 474 400 476 478.6"/>
<path class="l" d="M416 210 C430 250 442 300 448 350 C452 400 454 440 455 478.6"/>
<path class="l" d="M100 230 C108 222 118 216 132 215 L380 200 C395 200 408 204 416 210"/>
<path class="l" d="M100 230 C108 270 118 300 125 340 C125 365 115 385 100 400 C92 410 86 440 85 478.6"/>
<path class="l" d="M380 268 C398 270 406 280 410 296 C418 340 424 400 426 478.6"/>
<path class="l" d="M320 264 L380 268"/>
<path class="l" d="M468 215 C474 222 478.6 230 482 240"/>
</g>
<g transform="translate(170 258) scale(0.15625)">
<path class="s" d="M120 150 L120 280 C120 292 112 298 98 300 L62 306 M120 150 C160 146 200 146 240 150 L240 290 M62 306 C110 302 180 300 240 300 C262 312 282 328 302 336 C330 340 360 322 380 300 C392 288 400 276 402 262"/>
<path class="s" d="M300 180 C310 170 330 164 355 166 C380 168 398 178 404 196 C408 220 406 250 400 268 C380 280 350 284 325 280 C308 268 298 245 296 220 C295 204 296 190 300 180 Z"/>
<path class="s" d="M320 190 C335 182 360 182 378 190 C386 210 386 240 380 262 C362 270 340 270 324 262 C316 240 316 210 320 190 Z"/>
<path class="s" d="M410 130 L410 395 M290 150 C286 200 288 260 300 300"/>
<path class="s" d="M420 182 C460 174 520 170 560 172 C580 178 590 192 592 212 L592 290 C588 308 570 318 545 320 L420 326"/>
<path class="s" d="M470 352 C520 344 580 340 640 340 M640 180 C620 184 610 200 610 230 L610 300 M560 90 C566 110 572 128 580 140 M556 92 L600 88 L606 130"/>
</g>
<g transform="translate(250 258) scale(0.15625)">
<path class="s" d="M0 180 C20 174 40 176 52 186 C62 198 68 215 68 240 L68 290 C66 310 52 324 30 328 L0 330"/>
<path class="s" d="M125 204 C130 190 140 182 152 180 L156 300 L126 300 Z M156 300 C156 320 160 335 170 342 L240 346"/>
<path class="s" d="M190 218 C190 208 198 204 212 204 C226 204 234 210 234 220 L234 276 C234 286 226 290 212 290 C198 290 190 286 190 276 Z"/>
<path class="s" d="M50 80 L50 120 C80 126 120 128 160 128 M0 350 C30 346 60 344 100 344"/>
</g>
</g>
<path class="d" d="M206.1 265.4V312 M206.1 328V374.1 M241 265.8V312 M241 328V373.7"/>
<path class="a" d="M206.1 265.4l-.7 2.6h1.4z M206.1 374.1l-.7-2.6h1.4z M241 265.8l-.7 2.6h1.4z M241 373.7l-.7-2.6h1.4z"/>
<text transform="translate(208.2 320) rotate(-90)" textLength="11.6" lengthAdjust="spacingAndGlyphs">1560</text>
<text transform="translate(243.1 320) rotate(-90)" textLength="11.6" lengthAdjust="spacingAndGlyphs">1542</text>
</g>
<g>
<g>
<g transform="translate(432 245) scale(0.125)">
<path class="l" d="M310 66 C340 58 380 55 420 53 C490 49 560 46 624.6 45"/>
<path class="l" d="M320 76 C400 72 520 70 624.6 68"/>
<path class="l" d="M390 60 L390 74 M320 72 L320 122 M334 72 L334 118 M490 66 L490 112"/>
<path class="b" d="M310 122 C370 116 440 112 500 110 C540 108 585 106 624.6 106"/>
<path class="l" d="M500 118 C540 116 585 115 624.6 115"/>
<path class="l" d="M300 150 C380 140 500 132 624.6 130"/>
<path class="l" d="M598 84 L618 58 L624.6 56 M598 84 L624.6 84"/>
<path class="l" d="M310 66 C290 90 272 120 255 150 C235 190 215 230 195 262 C180 285 165 300 150 312"/>
<path class="l" d="M310 122 C300 130 295 140 300 150 C285 180 278 215 282 245 C284 258 290 266 300 270"/>
<path class="l" d="M270 140 C262 170 260 200 262 230 M255 150 C240 200 220 250 180 300"/>
<path class="l" d="M362 172 C362 158 370 151 385 150 C460 146 540 144 624.6 143"/>
<path class="l" d="M362 172 L362 232 C362 246 370 254 386 255 L624.6 252"/>
<path class="l" d="M180 300 C210 285 245 275 270 272 C280 268 290 266 300 266 L624.6 262"/>
<path class="l" d="M270 300 C380 300 500 300 624.6 300"/>
<path class="l" d="M270 272 C268 290 272 310 282 326 C292 345 296 380 298 420 L300 480"/>
<path class="l" d="M34 296 C34 275 45 258 65 250 C85 243 110 240 125 243 C140 247 148 260 150 280 C152 300 148 318 135 328 C120 336 80 338 55 334 C40 330 34 315 34 296 Z"/>
<path class="l" d="M148 300 L165 298 M135 328 C145 326 155 320 162 312"/>
<path class="l" d="M160 345 C165 328 180 314 205 310 L270 306"/>
<path class="l" d="M160 345 C158 360 160 375 170 384 L480 386 C500 384 515 372 520 356 C520 348 512 344 500 344 L300 340"/>
<path class="l" d="M300 326 C380 328 460 330 520 332"/>
<path class="l" d="M150 312 C130 335 115 360 108 395 C102 425 100 455 100 480"/>
<path class="l" d="M130 380 C120 410 114 445 112 480 M140 345 C130 365 124 385 120 400"/>
<path class="l" d="M150 480 C170 462 200 450 240 445 C260 442 280 440 298 440"/>
<circle class="l" cx="624" cy="355" r="20"/>
<circle cx="624" cy="355" r="13" style="fill:#555"/>
</g>
<g transform="translate(432 295) scale(0.125)">
<path class="l" d="M100 80 L100 520 C100 536 108 546 124 546 L230 546 C246 546 254 536 254 520 L254 412"/>
<path class="l" d="M112 90 C108 130 112 180 120 230 C126 270 132 310 142 340 C160 362 200 386 250 410 C262 416 272 420 286 420 L624.6 420"/>
<path class="l" d="M150 80 C170 65 195 52 220 46 C245 42 275 40 300 40 L624.6 36"/>
<path class="l" d="M165 95 C185 78 210 66 240 62 L300 60"/>
<path class="b" d="M180 104 C230 110 280 118 332 128"/>
<path class="l" d="M180 100 L624.6 100 M190 118 L624.6 118"/>
<path class="l" d="M300 0 C304 30 310 60 320 90 C325 105 330 118 336 128"/>
<path class="l" d="M128 120 C132 100 145 88 160 86 C166 110 168 150 164 180 C158 195 148 202 138 200 C128 180 124 150 128 120 Z"/>
<path class="l" d="M150 95 C154 120 154 160 150 190"/>
<path class="l" d="M284 162 C284 150 292 144 306 144 C320 144 330 150 338 160 L385 205 C395 215 405 220 420 220 L624.6 220"/>
<path class="l" d="M284 162 C290 190 305 220 325 242 C340 258 360 266 385 266 L624.6 266"/>
<path class="l" d="M304 160 C315 158 322 162 330 170 L375 218 C385 228 398 234 415 234 L624.6 234"/>
<path class="l" d="M300 180 C308 205 322 228 340 245 C352 254 368 256 385 256 L624.6 254"/>
<path class="b" d="M186 306 C190 294 200 286 215 286 L310 290 C322 292 328 300 324 312 C320 326 308 335 295 336 L200 336 C188 334 184 322 186 306 Z"/>
<path class="l" d="M210 304 C212 298 218 296 226 296 L300 298 C308 300 310 306 306 314 C302 322 296 326 288 326 L218 326 C210 324 208 314 210 304 Z"/>
<path class="l" d="M186 336 C180 345 172 355 165 362"/>
<path class="l" d="M385 336 L430 286 L555 286 L555 336"/>
<path class="l" d="M400 336 L440 296 L545 296"/>
<path class="l" d="M330 338 L624.6 338"/>
<path class="l" d="M225 398 L624.6 398"/>
<path class="l" d="M125 280 C135 310 150 335 170 350"/>
</g>
</g>
<g transform="translate(1020 0) scale(-1 1)">
<g transform="translate(432 245) scale(0.125)">
<path class="l" d="M310 66 C340 58 380 55 420 53 C490 49 560 46 624.6 45"/>
<path class="l" d="M320 76 C400 72 520 70 624.6 68"/>
<path class="l" d="M390 60 L390 74 M320 72 L320 122 M334 72 L334 118 M490 66 L490 112"/>
<path class="b" d="M310 122 C370 116 440 112 500 110 C540 108 585 106 624.6 106"/>
<path class="l" d="M500 118 C540 116 585 115 624.6 115"/>
<path class="l" d="M300 150 C380 140 500 132 624.6 130"/>
<path class="l" d="M598 84 L618 58 L624.6 56 M598 84 L624.6 84"/>
<path class="l" d="M310 66 C290 90 272 120 255 150 C235 190 215 230 195 262 C180 285 165 300 150 312"/>
<path class="l" d="M310 122 C300 130 295 140 300 150 C285 180 278 215 282 245 C284 258 290 266 300 270"/>
<path class="l" d="M270 140 C262 170 260 200 262 230 M255 150 C240 200 220 250 180 300"/>
<path class="l" d="M362 172 C362 158 370 151 385 150 C460 146 540 144 624.6 143"/>
<path class="l" d="M362 172 L362 232 C362 246 370 254 386 255 L624.6 252"/>
<path class="l" d="M180 300 C210 285 245 275 270 272 C280 268 290 266 300 266 L624.6 262"/>
<path class="l" d="M270 300 C380 300 500 300 624.6 300"/>
<path class="l" d="M270 272 C268 290 272 310 282 326 C292 345 296 380 298 420 L300 480"/>
<path class="l" d="M34 296 C34 275 45 258 65 250 C85 243 110 240 125 243 C140 247 148 260 150 280 C152 300 148 318 135 328 C120 336 80 338 55 334 C40 330 34 315 34 296 Z"/>
<path class="l" d="M148 300 L165 298 M135 328 C145 326 155 320 162 312"/>
<path class="l" d="M160 345 C165 328 180 314 205 310 L270 306"/>
<path class="l" d="M160 345 C158 360 160 375 170 384 L480 386 C500 384 515 372 520 356 C520 348 512 344 500 344 L300 340"/>
<path class="l" d="M300 326 C380 328 460 330 520 332"/>
<path class="l" d="M150 312 C130 335 115 360 108 395 C102 425 100 455 100 480"/>
<path class="l" d="M130 380 C120 410 114 445 112 480 M140 345 C130 365 124 385 120 400"/>
<path class="l" d="M150 480 C170 462 200 450 240 445 C260 442 280 440 298 440"/>
<circle class="l" cx="624" cy="355" r="20"/>
<circle cx="624" cy="355" r="13" style="fill:#555"/>
</g>
<g transform="translate(432 295) scale(0.125)">
<path class="l" d="M100 80 L100 520 C100 536 108 546 124 546 L230 546 C246 546 254 536 254 520 L254 412"/>
<path class="l" d="M112 90 C108 130 112 180 120 230 C126 270 132 310 142 340 C160 362 200 386 250 410 C262 416 272 420 286 420 L624.6 420"/>
<path class="l" d="M150 80 C170 65 195 52 220 46 C245 42 275 40 300 40 L624.6 36"/>
<path class="l" d="M165 95 C185 78 210 66 240 62 L300 60"/>
<path class="b" d="M180 104 C230 110 280 118 332 128"/>
<path class="l" d="M180 100 L624.6 100 M190 118 L624.6 118"/>
<path class="l" d="M300 0 C304 30 310 60 320 90 C325 105 330 118 336 128"/>
<path class="l" d="M128 120 C132 100 145 88 160 86 C166 110 168 150 164 180 C158 195 148 202 138 200 C128 180 124 150 128 120 Z"/>
<path class="l" d="M150 95 C154 120 154 160 150 190"/>
<path class="l" d="M284 162 C284 150 292 144 306 144 C320 144 330 150 338 160 L385 205 C395 215 405 220 420 220 L624.6 220"/>
<path class="l" d="M284 162 C290 190 305 220 325 242 C340 258 360 266 385 266 L624.6 266"/>
<path class="l" d="M304 160 C315 158 322 162 330 170 L375 218 C385 228 398 234 415 234 L624.6 234"/>
<path class="l" d="M300 180 C308 205 322 228 340 245 C352 254 368 256 385 256 L624.6 254"/>
<path class="b" d="M186 306 C190 294 200 286 215 286 L310 290 C322 292 328 300 324 312 C320 326 308 335 295 336 L200 336 C188 334 184 322 186 306 Z"/>
<path class="l" d="M210 304 C212 298 218 296 226 296 L300 298 C308 300 310 306 306 314 C302 322 296 326 288 326 L218 326 C210 324 208 314 210 304 Z"/>
<path class="l" d="M186 336 C180 345 172 355 165 362"/>
<path class="l" d="M385 336 L430 286 L555 286 L555 336"/>
<path class="l" d="M400 336 L440 296 L545 296"/>
<path class="l" d="M330 338 L624.6 338"/>
<path class="l" d="M225 398 L624.6 398"/>
<path class="l" d="M125 280 C135 310 150 335 170 350"/>
</g>
</g>
</g>
</svg>
</body></html>
